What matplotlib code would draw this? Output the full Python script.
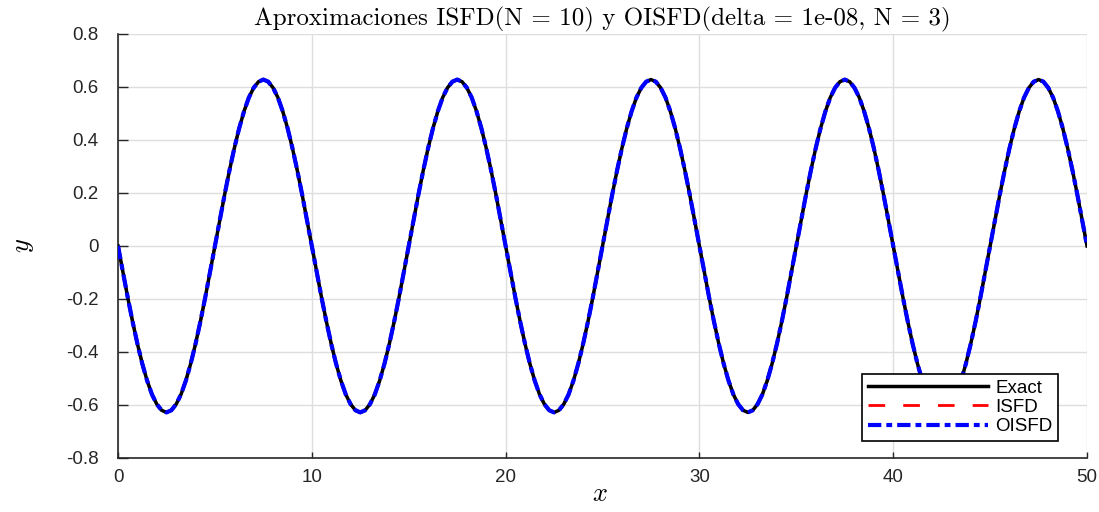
import numpy as np
import matplotlib.pyplot as plt

plt.rcParams['mathtext.fontset'] = 'cm'
plt.rcParams['axes.unicode_minus'] = False

# valores, paso 0.25 en x (0 .. 50)
exact_y = [
    0.000, -0.098, -0.194, -0.285, -0.369, -0.444, -0.508, -0.560, -0.597, -0.620,
    -0.628, -0.620, -0.597, -0.560, -0.508, -0.444, -0.369, -0.285, -0.194, -0.098,
    0.000, 0.098, 0.194, 0.285, 0.369, 0.444, 0.508, 0.560, 0.597, 0.620,
    0.628, 0.620, 0.597, 0.560, 0.508, 0.444, 0.369, 0.285, 0.194, 0.098,
    0.000, -0.098, -0.194, -0.285, -0.369, -0.444, -0.508, -0.560, -0.597, -0.620,
    -0.628, -0.620, -0.597, -0.560, -0.508, -0.444, -0.369, -0.285, -0.194, -0.098,
    0.000, 0.098, 0.194, 0.285, 0.369, 0.444, 0.508, 0.560, 0.597, 0.620,
    0.628, 0.620, 0.597, 0.560, 0.508, 0.444, 0.369, 0.285, 0.194, 0.098,
    0.000, -0.098, -0.194, -0.285, -0.369, -0.444, -0.508, -0.560, -0.597, -0.620,
    -0.628, -0.620, -0.597, -0.560, -0.508, -0.444, -0.369, -0.285, -0.194, -0.098,
    0.000, 0.098, 0.194, 0.285, 0.369, 0.444, 0.508, 0.560, 0.597, 0.620,
    0.628, 0.620, 0.597, 0.560, 0.508, 0.444, 0.369, 0.285, 0.194, 0.098,
    0.000, -0.098, -0.194, -0.285, -0.369, -0.444, -0.508, -0.560, -0.597, -0.620,
    -0.628, -0.620, -0.597, -0.560, -0.508, -0.444, -0.369, -0.285, -0.194, -0.098,
    0.000, 0.098, 0.194, 0.285, 0.369, 0.444, 0.508, 0.560, 0.597, 0.620,
    0.628, 0.620, 0.597, 0.560, 0.508, 0.444, 0.369, 0.285, 0.194, 0.098,
    0.000, -0.098, -0.194, -0.285, -0.369, -0.444, -0.508, -0.560, -0.597, -0.620,
    -0.628, -0.620, -0.597, -0.560, -0.508, -0.444, -0.369, -0.285, -0.194, -0.098,
    0.000, 0.098, 0.194, 0.285, 0.369, 0.444, 0.508, 0.560, 0.597, 0.620,
    0.628, 0.620, 0.597, 0.560, 0.508, 0.444, 0.369, 0.285, 0.194, 0.098,
    0.000,
]
# las aproximaciones coinciden con la solucion exacta a esta escala
isfd_y = list(exact_y)
oisfd_y = list(exact_y)
x_vals = np.linspace(0, 50, len(exact_y))

x_ticks = [0, 10, 20, 30, 40, 50]
y_ticks = [0.8, 0.6, 0.4, 0.2, 0, -0.2, -0.4, -0.6, -0.8]
y_tick_labels = ['0.8', '0.6', '0.4', '0.2', '0', '-0.2', '-0.4', '-0.6', '-0.8']

titulo = 'Aproximaciones ISFD(N = 10) y OISFD(delta = 1e-08, N = 3)'

fig = plt.figure(figsize=(10.99, 5.12), dpi=100)
ax = fig.add_axes([0.1074, 0.1055, 0.8817, 0.8281])

l_isfd, = ax.plot(x_vals, isfd_y, color='red', lw=2, ls=(0, (6, 6.5)), zorder=2, label='ISFD')
l_exact, = ax.plot(x_vals, exact_y, color='black', lw=2.5, ls='-', zorder=3, label='Exact')
l_oisfd, = ax.plot(x_vals, oisfd_y, color='blue', lw=3, ls=(0, (3.2, 1.2, 1.4, 1.2)), zorder=4, label='OISFD')

ax.set_xlim(0, 50)
ax.set_ylim(-0.8, 0.8)
ax.set_xticks(x_ticks)
ax.set_yticks(y_ticks)
ax.set_yticklabels(y_tick_labels)

for lab in ax.get_xticklabels() + ax.get_yticklabels():
    lab.set_fontfamily('Liberation Sans')
    lab.set_fontsize(13.5)

ax.tick_params(direction='in', colors='#262626', width=1)
ax.tick_params(axis='y', length=7, pad=14)
ax.tick_params(axis='x', length=4.5, pad=8)

ax.grid(True, color='#dedede', lw=1)
ax.set_axisbelow(True)
ax.spines['top'].set_visible(False)
ax.spines['right'].set_visible(False)
for s in ['left', 'bottom']:
    ax.spines[s].set_color('#262626')
    ax.spines[s].set_linewidth(1.2)

ax.set_title(titulo, fontfamily='cmr10', fontsize=18, pad=6)
ax.set_xlabel('$x$', fontsize=19)
ax.set_ylabel('$y$', fontsize=19)
ax.xaxis.set_label_coords(0.497, -0.055)
ax.yaxis.set_label_coords(-0.085, 0.5)

# leyenda abajo a la derecha, con marco negro
leg = ax.legend(handles=[l_exact, l_isfd, l_oisfd], loc='lower right',
                bbox_to_anchor=(0.970, 0.040), borderaxespad=0,
                fancybox=False, framealpha=1,
                edgecolor='black', handlelength=6.4, labelspacing=0.12,
                borderpad=0.3, handletextpad=0.4,
                prop={'family': 'Liberation Sans', 'size': 13.5})
leg.get_frame().set_linewidth(1.2)

fig.savefig('out.png', dpi=100)
